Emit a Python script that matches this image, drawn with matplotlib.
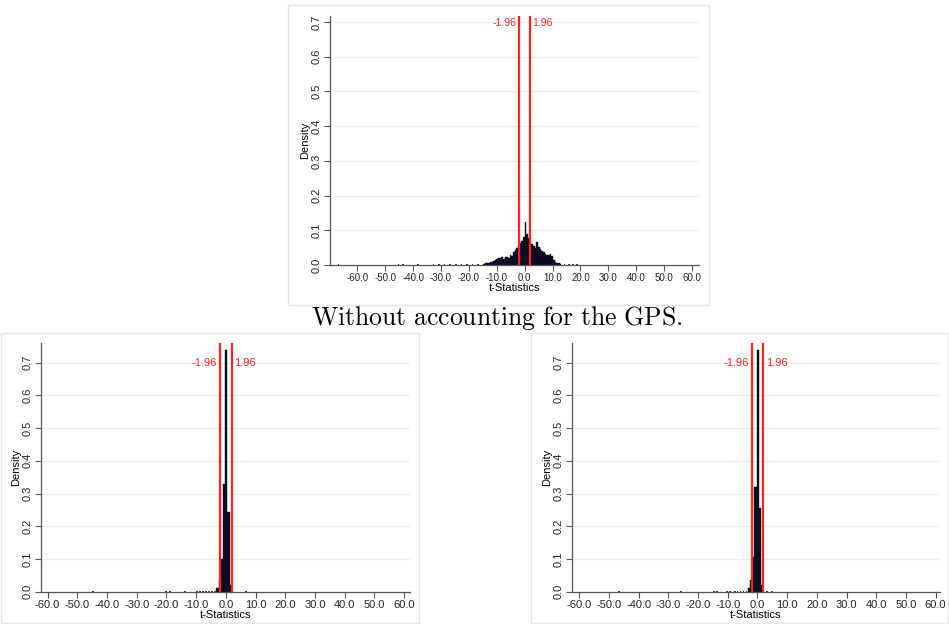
import matplotlib.pyplot as plt
import matplotlib.patches as mpatches
import numpy as np

plt.rcParams['font.family'] = ['Liberation Sans', 'DejaVu Sans']
plt.rcParams['mathtext.fontset'] = 'cm'

# ---------------- data ----------------
crit = [-1.96, 1.96]

# top panel: bins of width 0.6 from -15.0
top_bin_start = -15.0
top_bin_width = 0.6
top_heights = [0.004, 0.005, 0.006, 0.006, 0.008, 0.010, 0.012, 0.015, 0.017, 0.019,
               0.021, 0.022, 0.018, 0.022, 0.024, 0.021, 0.030, 0.026, 0.038, 0.044,
               0.048, 0.058, 0.062, 0.068, 0.080, 0.125, 0.090, 0.078, 0.070, 0.060,
               0.056, 0.050, 0.066, 0.052, 0.045, 0.040, 0.036, 0.033, 0.030, 0.028,
               0.032, 0.025, 0.015, 0.010, 0.007, 0.005, 0.003]
# sparse tail bins (left edge, height)
top_tail_x = [-67.0, -62.0, -45.5, -44.0, -38.5, -36.0, -33.0, -31.0, -29.0, -27.0,
              -25.0, -23.0, -21.0, -19.0, -17.0, 14.0, 15.5, 17.0, 18.5, 20.0, 23.0]
top_tail_h = [0.0015, 0.001, 0.0015, 0.0015, 0.0015, 0.001, 0.0015, 0.0015, 0.0015, 0.0015,
              0.0015, 0.0015, 0.002, 0.002, 0.0025, 0.002, 0.0015, 0.0015, 0.0015, 0.001, 0.001]

# bottom-left panel
bl_edges = [-3.2, -2.45, -1.7, -0.95, -0.2, 0.55, 1.3, 2.05]
bl_heights = [0.012, 0.04, 0.10, 0.33, 0.74, 0.245, 0.02]
bl_tail_x = [-45.0, -20.5, -19.0, -14.0, -10.0, -9.0, -8.0, -7.0, -6.0, -5.0, -4.0, 6.5]
bl_tail_h = [0.0015, 0.0015, 0.0015, 0.0015, 0.0015, 0.0015, 0.0015, 0.0015, 0.002, 0.002, 0.003, 0.0015]

# bottom-right panel
br_edges = [-3.3, -2.55, -1.8, -1.05, -0.3, 0.45, 1.2, 1.95]
br_heights = [0.012, 0.035, 0.105, 0.32, 0.74, 0.255, 0.02]
br_tail_x = [-47.0, -26.0, -15.0, -14.0, -10.5, -9.5, -8.0, -7.0, -6.0, -5.0, -4.0, 3.0, 4.5]
br_tail_h = [0.0015, 0.0015, 0.0015, 0.0015, 0.0015, 0.0015, 0.0015, 0.0015, 0.002, 0.002, 0.003, 0.002, 0.0015]

xticks = [-60, -50, -40, -30, -20, -10, 0, 10, 20, 30, 40, 50, 60]
yticks = [0.0, 0.1, 0.2, 0.3, 0.4, 0.5, 0.6, 0.7]

bar_c = '#0b0b22'
red = '#ff2020'
axis_c = '#555555'

W, H = 949, 624
fig = plt.figure(figsize=(W / 100, H / 100), dpi=100)

# panel frames (pixel boxes -> figure fraction)
def frame(x0, y0, x1, y1):
    r = mpatches.Rectangle((x0 / W, 1 - y1 / H), (x1 - x0) / W, (y1 - y0) / H,
                           transform=fig.transFigure, fill=False,
                           edgecolor='#e6e6e6', linewidth=1.0)
    fig.add_artist(r)

frame(288, 5, 709, 305)
frame(1, 333, 419, 623)
frame(531, 333, 948, 623)


def panel(rect, xlim, ylim, edges, widths, heights, tx, th, tick_fs, lab_fs):
    ax = fig.add_axes(rect)
    ax.set_xlim(*xlim)
    ax.set_ylim(*ylim)
    for y in yticks[1:]:
        ax.axhline(y, color='#e9efef', linewidth=0.9, zorder=0)
    ax.bar(edges, heights, width=widths, align='edge', color=bar_c,
           edgecolor=bar_c, linewidth=0.3, zorder=2)
    ax.bar(tx, th, width=0.6, align='edge', color='#333344', edgecolor='none',
           linewidth=0, zorder=2)
    for c in crit:
        ax.axvline(c, color=red, linewidth=1.6, zorder=3)
    ax.text(crit[0] - 0.9, 0.698, '-1.96', color=red, fontsize=lab_fs,
            ha='right', va='center')
    ax.text(crit[1] + 0.9, 0.698, '1.96', color=red, fontsize=lab_fs,
            ha='left', va='center')
    ax.set_xticks(xticks)
    ax.set_xticklabels(['%.1f' % v for v in xticks], fontsize=tick_fs)
    ax.set_yticks(yticks)
    ax.set_yticklabels(['%.1f' % v for v in yticks], fontsize=8,
                       rotation=90, va='center')
    ax.tick_params(colors='#222222', length=4, width=0.8, pad=2)
    ax.tick_params(axis='both', color=axis_c)
    ax.set_xlabel('t-Statistics', fontsize=8, labelpad=0)
    ax.set_ylabel('Density', fontsize=8, labelpad=1)
    for s in ['top', 'right']:
        ax.spines[s].set_visible(False)
    for s in ['left', 'bottom']:
        ax.spines[s].set_color(axis_c)
        ax.spines[s].set_linewidth(0.9)
    ax.set_facecolor('none')
    return ax


# top panel
top_edges = [top_bin_start + i * top_bin_width for i in range(len(top_heights))]
panel([330 / W, 1 - 265 / H, 369 / W, (265 - 16) / H], (-69.8, 62.5), (0, 0.717),
      top_edges, top_bin_width, top_heights, top_tail_x, top_tail_h, 7, 7.5)

# bottom-left panel
panel([41 / W, 1 - 591.7 / H, 369 / W, (591.7 - 343) / H], (-62.2, 62.0), (0, 0.76),
      bl_edges[:-1], np.diff(bl_edges), bl_heights, bl_tail_x, bl_tail_h, 8, 8)

# bottom-right panel
panel([571.7 / W, 1 - 591.7 / H, 368.3 / W, (591.7 - 343) / H], (-62.6, 61.5), (0, 0.76),
      br_edges[:-1], np.diff(br_edges), br_heights, br_tail_x, br_tail_h, 8, 8)

fig.text(497 / W, 1 - 318 / H, r'$\mathrm{Without\ accounting\ for\ the\ GPS.}$',
         fontsize=18.5, ha='center', va='center')

fig.savefig('out.png', dpi=100, facecolor='white')
